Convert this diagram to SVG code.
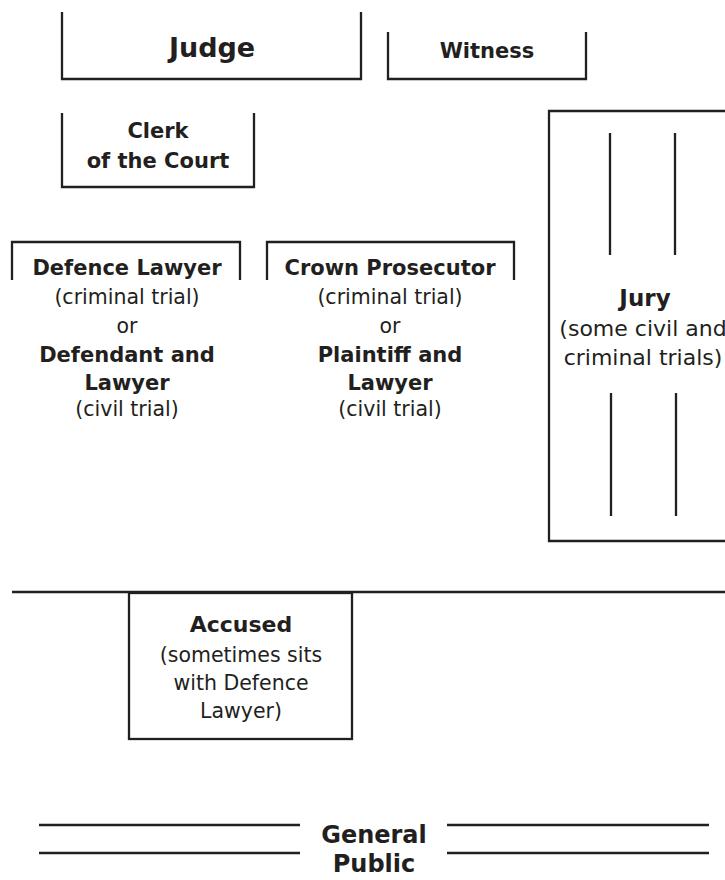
<svg xmlns="http://www.w3.org/2000/svg" width="725" height="880" viewBox="0 0 725 880">
<style>
.ln{fill:none;stroke:#231f20;stroke-width:2.3}
.b{font-family:"DejaVu Sans",Verdana,sans-serif;font-weight:bold;fill:#231f20;text-anchor:middle;font-size:21px}
.r{font-family:"DejaVu Sans",Verdana,sans-serif;fill:#231f20;text-anchor:middle;font-size:20.5px}
</style>
<rect width="725" height="880" fill="#fff"/>
<g id="judge">
<path class="ln" d="M62,12 V79 H361 V12"/>
<text class="b" x="212" y="57" style="font-size:27px">Judge</text>
</g>
<g id="witness">
<path class="ln" d="M388,32 V79 H586 V32"/>
<text class="b" x="487" y="58">Witness</text>
</g>
<g id="clerk">
<path class="ln" d="M62,113 V187 H254 V113"/>
<text class="b" x="158" y="138">Clerk</text>
<text class="b" x="158" y="168">of the Court</text>
</g>
<g id="jury">
<path class="ln" d="M726,111 H549 V541 H726"/>
<path class="ln" d="M610,133 V255 M675,133 V255 M611,393 V516 M676,393 V516"/>
<text class="b" x="645" y="306" style="font-size:23px">Jury</text>
<text class="r" x="643" y="336" style="font-size:22px">(some civil and</text>
<text class="r" x="643" y="365" style="font-size:22px">criminal trials)</text>
</g>
<g id="defence">
<path class="ln" d="M12,280 V242 H240 V280"/>
<text class="b" x="127" y="275">Defence Lawyer</text>
<text class="r" x="127" y="304">(criminal trial)</text>
<text class="r" x="127" y="333">or</text>
<text class="b" x="127" y="362">Defendant and</text>
<text class="b" x="127" y="390">Lawyer</text>
<text class="r" x="127" y="416">(civil trial)</text>
</g>
<g id="crown">
<path class="ln" d="M267,280 V242 H514 V280"/>
<text class="b" x="390" y="275">Crown Prosecutor</text>
<text class="r" x="390" y="304">(criminal trial)</text>
<text class="r" x="390" y="333">or</text>
<text class="b" x="390" y="362">Plaintiff and</text>
<text class="b" x="390" y="390">Lawyer</text>
<text class="r" x="390" y="416">(civil trial)</text>
</g>
<g id="bar">
<path class="ln" d="M12,592 H726"/>
</g>
<g id="accused">
<rect class="ln" x="129" y="593" width="223" height="146"/>
<text class="b" x="241" y="632" style="font-size:22px">Accused</text>
<text class="r" x="241" y="662">(sometimes sits</text>
<text class="r" x="241" y="690">with Defence</text>
<text class="r" x="241" y="718">Lawyer)</text>
</g>
<g id="public">
<path class="ln" d="M39,825 H300 M39,853 H300 M447,825 H709 M447,853 H709"/>
<text class="b" x="374" y="843" style="font-size:24px">General</text>
<text class="b" x="374" y="872" style="font-size:24px">Public</text>
</g>
</svg>
